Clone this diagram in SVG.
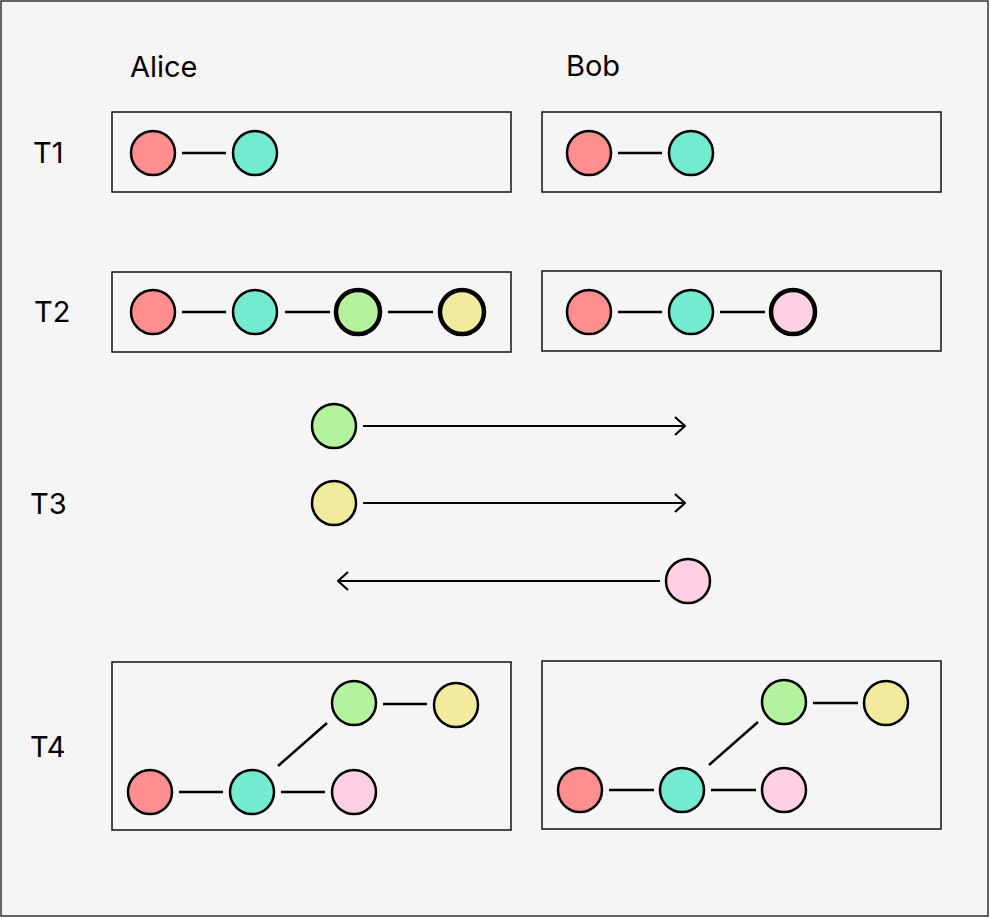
<svg xmlns="http://www.w3.org/2000/svg" width="990" height="918" viewBox="0 0 990 918">
<defs>
<style>
.lbl{font-family:Inter,"Noto Sans","Liberation Sans",sans-serif;font-size:29px;fill:#000}
.box{fill:none;stroke:#111;stroke-width:1.5}
.n{stroke:#000;stroke-width:2.5}
.nb{stroke:#000;stroke-width:4.5}
.red{fill:#ff8f8f}.teal{fill:#72ebd0}.green{fill:#b5f29e}.yellow{fill:#f2eb9e}.pink{fill:#ffcfe3}
.e{stroke:#000;stroke-width:2.5;fill:none}
.a{stroke:#000;stroke-width:2.2;fill:none}
</style>
<marker id="arr" viewBox="0 0 12 20" markerWidth="12" markerHeight="20" refX="11" refY="10" orient="auto" markerUnits="userSpaceOnUse">
<path d="M1,1 L11,10 L1,19" fill="none" stroke="#000" stroke-width="2.2"/>
</marker>
</defs>
<rect x="1" y="1" width="987" height="915" fill="#f5f5f5" stroke="#333" stroke-width="1.5"/>
<g id="labels">
<text class="lbl" x="130" y="77">Alice</text>
<text class="lbl" x="566" y="76">Bob</text>
<text class="lbl" x="33" y="163">T1</text>
<text class="lbl" x="34" y="322">T2</text>
<text class="lbl" x="30" y="514">T3</text>
<text class="lbl" x="30" y="757">T4</text>
</g>
<g id="boxes">
<rect id="alice-t1" class="box" x="112" y="112" width="399" height="80"/>
<rect id="bob-t1" class="box" x="542" y="112" width="399" height="80"/>
<rect id="alice-t2" class="box" x="112" y="272" width="399" height="80"/>
<rect id="bob-t2" class="box" x="542" y="271" width="399" height="80"/>
<rect id="alice-t4" class="box" x="112" y="662" width="399" height="168"/>
<rect id="bob-t4" class="box" x="542" y="661" width="399" height="168"/>
</g>
<g id="connectors">
<line class="e" x1="182" y1="153" x2="226" y2="153"/>
<line class="e" x1="618" y1="153" x2="662" y2="153"/>
<line class="e" x1="182" y1="312" x2="226" y2="312"/>
<line class="e" x1="285" y1="312" x2="330" y2="312"/>
<line class="e" x1="388" y1="312" x2="433" y2="312"/>
<line class="e" x1="618" y1="312" x2="662" y2="312"/>
<line class="e" x1="720" y1="312" x2="765" y2="312"/>
<line class="a" x1="363" y1="426" x2="685" y2="426" marker-end="url(#arr)"/>
<line class="a" x1="363" y1="503" x2="685" y2="503" marker-end="url(#arr)"/>
<line class="a" x1="660" y1="581" x2="338" y2="581" marker-end="url(#arr)"/>
<line class="e" x1="179" y1="792" x2="223" y2="792"/>
<line class="e" x1="281" y1="792" x2="325" y2="792"/>
<line class="e" x1="278" y1="766" x2="327" y2="723"/>
<line class="e" x1="383" y1="704" x2="427" y2="704"/>
<line class="e" x1="609" y1="790" x2="654" y2="790"/>
<line class="e" x1="711" y1="790" x2="756" y2="790"/>
<line class="e" x1="709" y1="765" x2="758" y2="722"/>
<line class="e" x1="813" y1="703" x2="858" y2="703"/>
</g>
<g id="nodes-alice-t1">
<circle class="n red" cx="153" cy="153" r="22"/>
<circle class="n teal" cx="255" cy="153" r="22"/>
</g>
<g id="nodes-bob-t1">
<circle class="n red" cx="589" cy="153" r="22"/>
<circle class="n teal" cx="691" cy="153" r="22"/>
</g>
<g id="nodes-alice-t2">
<circle class="n red" cx="153" cy="312" r="22"/>
<circle class="n teal" cx="255" cy="312" r="22"/>
<circle class="nb green" cx="358" cy="312" r="22"/>
<circle class="nb yellow" cx="462" cy="312" r="22"/>
</g>
<g id="nodes-bob-t2">
<circle class="n red" cx="589" cy="312" r="22"/>
<circle class="n teal" cx="691" cy="312" r="22"/>
<circle class="nb pink" cx="793" cy="312" r="22"/>
</g>
<g id="nodes-t3">
<circle class="n green" cx="334" cy="426" r="22"/>
<circle class="n yellow" cx="334" cy="503" r="22"/>
<circle class="n pink" cx="688" cy="581" r="22"/>
</g>
<g id="nodes-alice-t4">
<circle class="n red" cx="150" cy="792" r="22"/>
<circle class="n teal" cx="252" cy="792" r="22"/>
<circle class="n pink" cx="354" cy="792" r="22"/>
<circle class="n green" cx="354" cy="703" r="22"/>
<circle class="n yellow" cx="456" cy="705" r="22"/>
</g>
<g id="nodes-bob-t4">
<circle class="n red" cx="580" cy="790" r="22"/>
<circle class="n teal" cx="682" cy="790" r="22"/>
<circle class="n pink" cx="784" cy="790" r="22"/>
<circle class="n green" cx="784" cy="702" r="22"/>
<circle class="n yellow" cx="886" cy="703" r="22"/>
</g>
</svg>
